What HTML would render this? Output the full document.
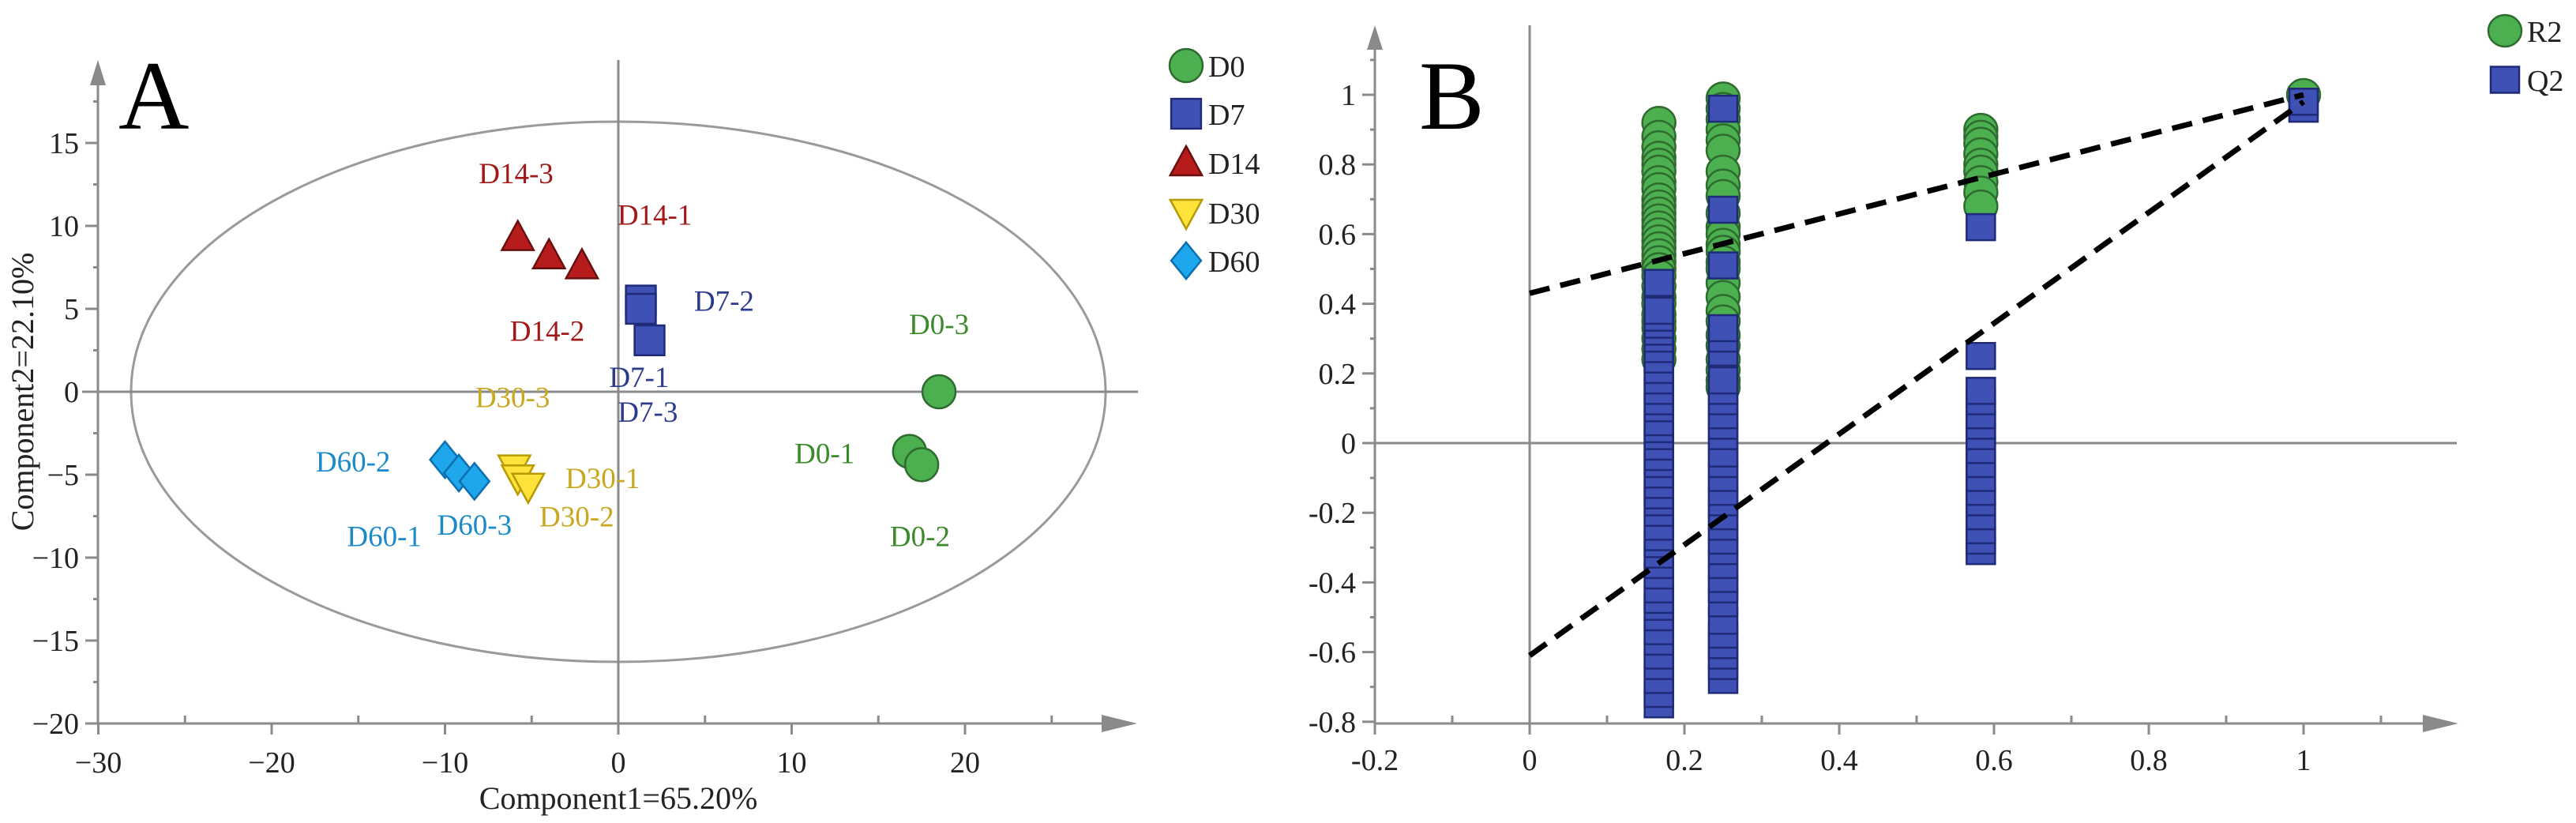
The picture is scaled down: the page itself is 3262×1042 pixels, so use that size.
<!DOCTYPE html>
<html><head><meta charset="utf-8"><style>
html,body{margin:0;padding:0;background:#fff}
svg{display:block}
text{font-family:"Liberation Serif",serif}
</style></head><body>
<svg id="fig" width="3262" height="1042" viewBox="0 0 3262 1042" xmlns="http://www.w3.org/2000/svg">
<g id="pa"></g>
<g id="pb"></g>
</svg>
<script>
// ---------- Panel A data ----------
const aXTicks = [-30,-20,-10,0,10,20];
const aYTicks = [-20,-15,-10,-5,0,5,10,15];
const groups = ["D0","D7","D14","D30","D60"];
const d0X = [18.5,16.8,17.5], d0Y = [0,-3.6,-4.4];
const d7X = [1.3,1.3,1.8], d7Y = [5.5,5.0,3.1];
const d14X = [-5.8,-4.0,-2.1], d14Y = [9.3,8.2,7.6];
const d30X = [-6.0,-5.8,-5.2], d30Y = [-4.6,-5.2,-5.7];
const d60X = [-10.0,-9.2,-8.3], d60Y = [-4.1,-4.9,-5.4];
const ptLabels = ["D14-3","D14-1","D14-2","D7-2","D7-1","D7-3","D30-3","D0-3","D0-1","D0-2","D60-2","D30-1","D30-2","D60-1","D60-3"];
const ptLabelX = [-5.9,2.1,-4.1,6.1,1.2,1.7,-6.1,18.5,11.9,17.4,-15.3,-0.9,-2.4,-13.5,-8.3];
const ptLabelY = [13.2,10.7,3.7,5.5,0.9,-1.2,-0.3,4.1,-3.7,-8.7,-4.2,-5.2,-7.5,-8.7,-8.0];
// ---------- Panel B data ----------
const bXTicks = [-0.2,0,0.2,0.4,0.6,0.8,1];
const bYTicks = [-0.8,-0.6,-0.4,-0.2,0,0.2,0.4,0.6,0.8,1];
const r2Col1 = [0.92,0.88,0.85,0.82,0.80,0.78,0.75,0.73,0.70,0.68,0.66,0.64,0.62,0.60,0.58,0.56,0.54,0.52,0.50,0.48,0.45,0.42,0.40,0.37,0.35,0.33,0.30,0.27,0.24];
const q2Col1 = [0.46,0.38,0.36,0.34,0.32,0.30,0.27,0.24,0.21,0.18,0.15,0.12,0.10,0.06,0.04,0.02,-0.01,-0.04,-0.06,-0.09,-0.12,-0.15,-0.17,-0.20,-0.24,-0.27,-0.29,-0.32,-0.35,-0.38,-0.42,-0.45,-0.47,-0.50,-0.54,-0.57,-0.61,-0.64,-0.68,-0.72,-0.75];
const r2Col2 = [0.99,0.96,0.93,0.90,0.87,0.84,0.78,0.74,0.71,0.66,0.62,0.60,0.57,0.55,0.52,0.50,0.46,0.42,0.38,0.35,0.31,0.28,0.24,0.21,0.18,0.16];
const q2Col2 = [0.96,0.67,0.51,0.33,0.30,0.26,0.18,0.15,0.12,0.08,0.05,0.02,-0.03,-0.06,-0.10,-0.14,-0.17,-0.21,-0.24,-0.28,-0.31,-0.35,-0.39,-0.42,-0.46,-0.51,-0.55,-0.58,-0.61,-0.64,-0.68];
const r2Col3 = [0.90,0.88,0.86,0.83,0.80,0.78,0.75,0.72,0.68];
const q2Col3 = [0.62,0.25,0.15,0.12,0.08,0.05,0.02,-0.02,-0.06,-0.10,-0.14,-0.17,-0.21,-0.25,-0.28,-0.31];
const r2Col4 = [1.0], q2Col4 = [0.98,0.96];
const colX = [0.167,0.25,0.583,1.0];
const r2Line = [0.43,1.0];   // intercept, value at x=1
const q2Line = [-0.61,0.98];

const NS="http://www.w3.org/2000/svg";
function mk(parent,tag,attrs,txt){const e=document.createElementNS(NS,tag);for(const k in attrs)e.setAttribute(k,attrs[k]);if(txt!==undefined)e.textContent=txt;parent.appendChild(e);return e;}
const A=document.getElementById('pa'), B=document.getElementById('pb');
const gray="#8a8a8a";

// ---- Panel A scales ----
const ax=v=>783+v*21.95, ay=v=>496-v*21.0;
let el=mk(A,'ellipse',{cx:ax(0),cy:ay(0),rx:617,ry:342,fill:'none',stroke:'#9a9a9a','stroke-width':3});


let l=mk(A,'line',{x1:104,y1:ay(0),x2:1441,y2:ay(0),stroke:gray,'stroke-width':3});


l=mk(A,'line',{x1:ax(0),y1:76,x2:ax(0),y2:916,stroke:gray,'stroke-width':3});


l=mk(A,'line',{x1:124,y1:100,x2:124,y2:916,stroke:gray,'stroke-width':3});


l=mk(A,'polygon',{points:"114,108 134,108 124,76",fill:gray});


l=mk(A,'line',{x1:124,y1:916,x2:1412,y2:916,stroke:gray,'stroke-width':3});


l=mk(A,'polygon',{points:"1395,905 1395,927 1440,916",fill:gray});


for(let v=-30;v<=25;v+=5){const major=aXTicks.includes(v);
 const t=mk(A,'line',{x1:ax(v),y1:major?916:906,x2:ax(v),y2:major?930:916,stroke:gray,'stroke-width':3});
 
 }
aXTicks.forEach(v=>{const t=mk(A,'text',{x:ax(v),y:978,'font-size':38,'text-anchor':'middle',fill:'#222'},v<0?'\u2212'+(-v):String(v));
 
 });
for(let v=-20;v<=17.5;v+=2.5){const major=aYTicks.includes(v);
 const t=mk(A,'line',{x1:major?108:118,y1:ay(v),x2:124,y2:ay(v),stroke:gray,'stroke-width':3});
 
 }
aYTicks.forEach(v=>{const t=mk(A,'text',{x:100,y:ay(v)+13,'font-size':38,'text-anchor':'end',fill:'#222'},v<0?'\u2212'+(-v):String(v));
 
 });
let tt=mk(A,'text',{x:783,y:1024,'font-size':40,'text-anchor':'middle',fill:'#222'},'Component1=65.20%');


tt=mk(A,'text',{x:0,y:0,'font-size':40,'text-anchor':'middle',fill:'#222',transform:'translate(42,496) rotate(-90)'},'Component2=22.10%');


tt=mk(A,'text',{x:150,y:163,'font-size':124,fill:'#000'},'A');



const styles={
 D0:{fill:'#4caf50',stroke:'#2e6b2e',lab:'#3a8a2a'},
 D7:{fill:'#3f51b5',stroke:'#1f2a78',lab:'#2c3a8c'},
 D14:{fill:'#b71c1c',stroke:'#6a0f0f',lab:'#a01818'},
 D30:{fill:'#ffe23a',stroke:'#b59a00',lab:'#c8a820'},
 D60:{fill:'#1ea7ec',stroke:'#0b6fb0',lab:'#1a8ac8'}};
function marker(g,grp,cx,cy,s){const st=styles[grp];const a={fill:st.fill,stroke:st.stroke,'stroke-width':2.5};let e;
 if(grp==='D0') e=mk(g,'circle',Object.assign({cx:cx,cy:cy,r:s/2},a));
 else if(grp==='D7') e=mk(g,'rect',Object.assign({x:cx-s*0.45,y:cy-s*0.45,width:s*0.9,height:s*0.9},a));
 else if(grp==='D14') e=mk(g,'polygon',Object.assign({points:`${cx},${cy-s*0.5} ${cx-s*0.48},${cy+s*0.38} ${cx+s*0.48},${cy+s*0.38}`},a));
 else if(grp==='D30') e=mk(g,'polygon',Object.assign({points:`${cx},${cy+s*0.5} ${cx-s*0.48},${cy-s*0.38} ${cx+s*0.48},${cy-s*0.38}`},a));
 else e=mk(g,'polygon',Object.assign({points:`${cx},${cy-s*0.55} ${cx+s*0.45},${cy} ${cx},${cy+s*0.55} ${cx-s*0.45},${cy}`},a));
 return e;}
const gx={D0:d0X,D7:d7X,D14:d14X,D30:d30X,D60:d60X}, gy={D0:d0Y,D7:d7Y,D14:d14Y,D30:d30Y,D60:d60Y};
groups.forEach(g=>{gx[g].forEach((xv,i)=>{const m=marker(A,g,ax(xv),ay(gy[g][i]),42);
 
 });});
ptLabels.forEach((t,i)=>{const g=t.split('-')[0];
 const e=mk(A,'text',{x:ax(ptLabelX[i]),y:ay(ptLabelY[i])+13,'font-size':37,'text-anchor':'middle',fill:styles[g].lab},t);
 
 });
const legY=[83,144,206,269,330];
groups.forEach((g,i)=>{const m=marker(A,g,1502,legY[i],42);
 
 
 const t=mk(A,'text',{x:1530,y:legY[i]+14,'font-size':38,fill:'#222'},g);
 
 });

// ---- Panel B scales ----
const bx=v=>1937+v*980, by=v=>561-v*441;
l=mk(B,'line',{x1:1741,y1:by(0),x2:3111,y2:by(0),stroke:gray,'stroke-width':3});


l=mk(B,'line',{x1:bx(0),y1:32,x2:bx(0),y2:916,stroke:gray,'stroke-width':3});


l=mk(B,'line',{x1:1741,y1:55,x2:1741,y2:916,stroke:gray,'stroke-width':3});


l=mk(B,'polygon',{points:"1731,63 1751,63 1741,32",fill:gray});


l=mk(B,'line',{x1:1741,y1:916,x2:3085,y2:916,stroke:gray,'stroke-width':3});


l=mk(B,'polygon',{points:"3068,905 3068,927 3113,916",fill:gray});


for(let k=-2;k<=11;k++){const v=k/10;const major=k%2===0;
 const t=mk(B,'line',{x1:bx(v),y1:major?916:906,x2:bx(v),y2:major?930:916,stroke:gray,'stroke-width':3});
 
 }
bXTicks.forEach(v=>{const t=mk(B,'text',{x:bx(v),y:975,'font-size':38,'text-anchor':'middle',fill:'#222'},String(v));
 
 });
for(let k=-8;k<=11;k++){const v=k/10;const major=k%2===0;
 const t=mk(B,'line',{x1:major?1725:1735,y1:by(v),x2:1741,y2:by(v),stroke:gray,'stroke-width':3});
 
 }
bYTicks.forEach(v=>{const t=mk(B,'text',{x:1717,y:by(v)+13,'font-size':38,'text-anchor':'end',fill:'#222'},String(Math.round(v*10)/10));
 
 });
tt=mk(B,'text',{x:1797,y:163,'font-size':124,fill:'#000'},'B');


const r2Cols=[r2Col1,r2Col2,r2Col3,r2Col4], q2Cols=[q2Col1,q2Col2,q2Col3,q2Col4];
function r2pt(cx,cy){const e=mk(B,'ellipse',{cx:cx,cy:cy,rx:21,ry:20,fill:'#4caf50',stroke:'#2e6b2e','stroke-width':2.5});
 
 return e;}
function q2pt(cx,cy){const e=mk(B,'rect',{x:cx-18,y:cy-16.5,width:36,height:33,fill:'#3f51b5',stroke:'#1f2a78','stroke-width':2.5});
 
 return e;}
r2Cols.forEach((c,i)=>c.forEach(v=>r2pt(bx(colX[i]),by(v))));
q2Cols.forEach((c,i)=>c.slice().reverse().forEach(v=>q2pt(bx(colX[i]),by(v))));
l=mk(B,'line',{x1:bx(0),y1:by(r2Line[0]),x2:bx(1),y2:by(r2Line[1]),stroke:'#000','stroke-width':7,'stroke-dasharray':'26,14'});


l=mk(B,'line',{x1:bx(0),y1:by(q2Line[0]),x2:bx(1),y2:by(q2Line[1]),stroke:'#000','stroke-width':7,'stroke-dasharray':'26,14'});


let lm=r2pt(3172,39);

lm=q2pt(3172,101);

tt=mk(B,'text',{x:3200,y:53,'font-size':38,fill:'#222'},'R2');


tt=mk(B,'text',{x:3200,y:115,'font-size':38,fill:'#222'},'Q2');


</script>
</body></html>
